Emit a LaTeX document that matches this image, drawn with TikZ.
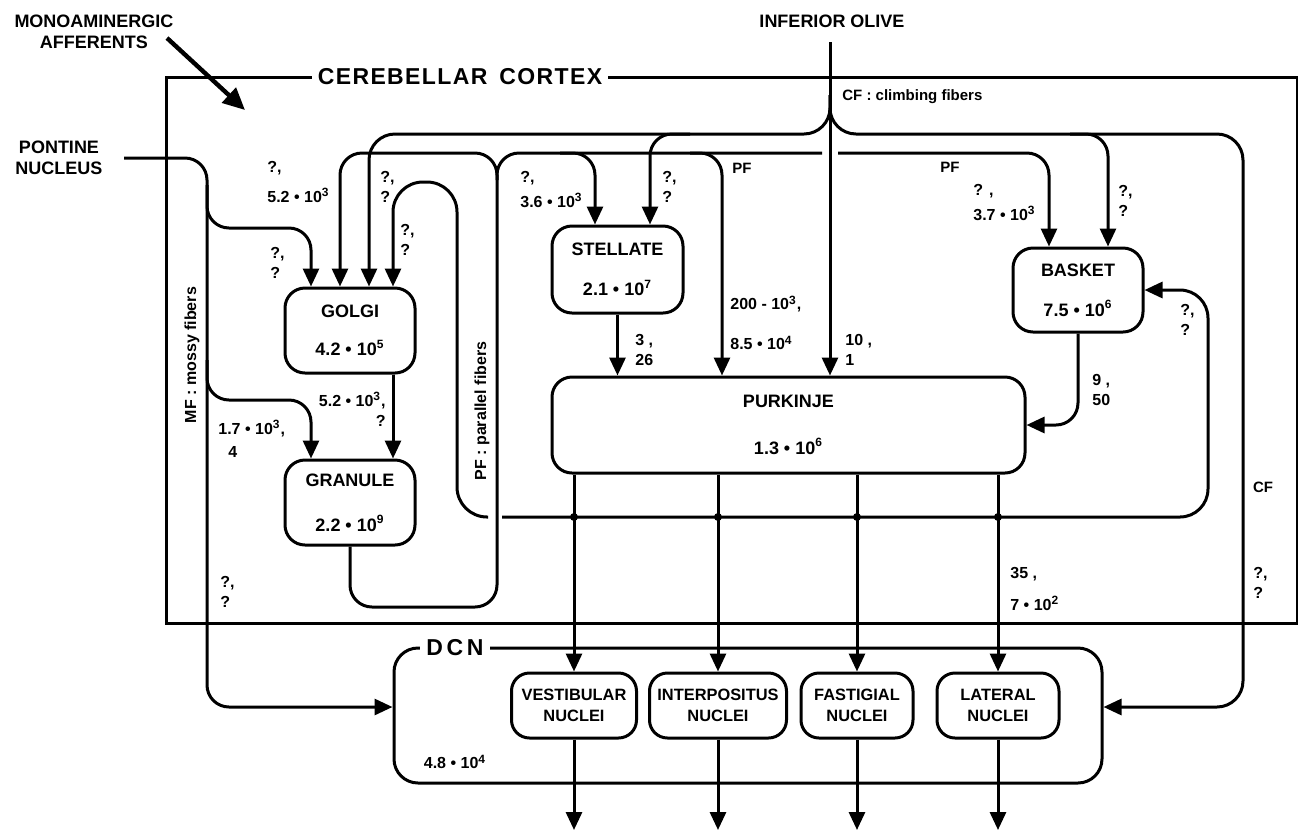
\documentclass[tikz,border=0pt]{standalone}
\usepackage{fontspec}
\setmainfont{Liberation Sans}
\usetikzlibrary{arrows.meta}

\newcommand{\tenpow}[2]{#1 \textbullet{} 10\textsuperscript{#2}}

\tikzset{
	wire/.style={line width=1.5pt, rounded corners=11pt},
	feed/.style={wire, -{Triangle[length=9pt, width=8pt]}},
	cell/.style={draw, line width=1.5pt, rounded corners=10pt, align=center, inner sep=0pt, font=\bfseries\fontsize{9}{19}\selectfont},
	nucleus/.style={draw, line width=1.5pt, rounded corners=9pt, align=center, inner sep=0pt, minimum height=32.5pt, font=\bfseries\fontsize{8.2}{10.5}\selectfont},
	num/.style={anchor=west, align=left, inner sep=0pt, font=\bfseries\fontsize{8}{10}\selectfont},
	tag/.style={align=center, inner sep=0pt, font=\bfseries\fontsize{9}{10.5}\selectfont},
	note/.style={inner sep=0pt, font=\bfseries\fontsize{7.5}{9}\selectfont},
	heading/.style={fill=white, inner xsep=3pt, inner ysep=1pt, font=\bfseries\fontsize{11.5}{13}\selectfont\addfontfeature{LetterSpace=6}}
}

\begin{document}
\begin{tikzpicture}[x=0.5pt, y=-0.5pt]
	\def\yCF{134};
	\def\yPF{153};
	\def\yPC{517};
	\def\yDC{707};

	\useasboundingbox (0,0) rectangle (1298,832);

	\draw[line width=1.5pt] (166,77) rectangle (1297,623);
	\node[heading] (cortex) at (460,77) {CEREBELLAR\hspace{6pt}CORTEX};

	\node[draw, line width=1.5pt, rounded corners=12pt, minimum width=354pt, minimum height=67.5pt] (dcn) at (748,715.5) {};
	\node[heading] (dcnname) at (455,648) {\addfontfeature{LetterSpace=16}DCN};

	\node[cell, minimum width=65pt, minimum height=42.5pt] (golgi) at (350,330.5) {GOLGI\\\tenpow{4.2}{5}};
	\node[cell, minimum width=65pt, minimum height=42.5pt] (granule) at (350,502.5) {GRANULE\\[3.5pt]\tenpow{2.2}{9}};
	\node[cell, minimum width=65.5pt, minimum height=43.5pt] (stellate) at (617.5,269.5) {STELLATE\\[1pt]\tenpow{2.1}{7}};
	\node[cell, minimum width=65pt, minimum height=42pt] (basket) at (1078,290) {BASKET\\[1pt]\tenpow{7.5}{6}};
	\node[cell, minimum width=236.5pt, minimum height=48pt] (purkinje) at (788.5,425) {PURKINJE\\[4.5pt]\tenpow{1.3}{6}};

	\node[nucleus, minimum width=62.5pt] (vestib) at (574,705.5) {VESTIBULAR\\NUCLEI};
	\node[nucleus, minimum width=68.5pt] (interpos) at (718,705.5) {INTERPOSITUS\\NUCLEI};
	\node[nucleus, minimum width=56pt] (fastig) at (857,705.5) {FASTIGIAL\\NUCLEI};
	\node[nucleus, minimum width=61pt] (lateral) at (998,705.5) {LATERAL\\NUCLEI};

	\node[tag] (mono) at (94,32) {MONOAMINERGIC\\AFFERENTS};
	\node[tag] (pontine) at (59,157.5) {PONTINE\\NUCLEUS};
	\node[tag] (olive) at (832,21) {INFERIOR OLIVE};

	\coordinate (monostart) at (167,38);
	\coordinate (monoend) at (245,110);
	\coordinate (mf) at (124,158);
	\coordinate (cf) at (830,42);

	\draw[line width=2.2pt, -{Triangle[length=11pt, width=10pt]}] (monostart) -- (monoend);

	% mossy fibers
	\draw[feed] (mf) -- (207,158) -- (207,\yDC) -- (dcn.west |- 0,\yDC);
	\draw[feed] (207,185) -- (207,228) -- (311,228) -- (311,0 |- golgi.north);
	\draw[feed] (207,360) -- (207,400) -- (311,400) -- (311,0 |- granule.north);

	% parallel fibers
	\draw[wire] (granule.south) -- (granule.south |- 0,607) -- (497,607) -- (497,\yPF) -- (822,\yPF);
	\draw[feed] (497,180) -- (497,\yPF) -- (340,\yPF) -- (340,0 |- golgi.north);
	\draw[feed] (838,\yPF) -- (1049,\yPF) -- (1049,0 |- basket.north);
	\draw[feed] (560,\yPF) -- (595,\yPF) -- (595,0 |- stellate.north);
	\draw[feed] (690,\yPF) -- (722,\yPF) -- (722,0 |- purkinje.north);

	% climbing fibers
	\draw[feed] (cf) -- (cf |- purkinje.north);
	\draw[feed, rounded corners=13pt] (830,95) -- (830,\yCF) -- (369,\yCF) -- (369,0 |- golgi.north);
	\draw[feed, rounded corners=13pt] (830,95) -- (830,\yCF) -- (1243,\yCF) -- (1243,\yDC) -- (dcn.east |- 0,\yDC);
	\draw[feed] (690,\yCF) -- (650,\yCF) -- (650,0 |- stellate.north);
	\draw[feed] (1070,\yCF) -- (1108,\yCF) -- (1108,0 |- basket.north);

	% purkinje collaterals
	\draw[feed, rounded corners=15pt] (488,\yPC) -- (457,\yPC) -- (457,182) -- (393,182) -- (393,0 |- golgi.north);
	\draw[feed, rounded corners=14pt] (502,\yPC) -- (1208,\yPC) -- (1208,0 |- basket.east) -- (basket.east);

	\draw[feed] (393,0 |- golgi.south) -- (393,0 |- granule.north);
	\draw[feed] (stellate.south) -- (stellate.south |- purkinje.north);
	\draw[feed] (basket.south) -- (basket.south |- purkinje.east) -- (purkinje.east);

	\foreach \n in {vestib,interpos,fastig,lateral} {
		\draw[feed] (purkinje.south -| \n.north) -- (\n.north);
		\fill (\n.north |- 0,\yPC) circle (2pt);
		\draw[feed] (\n.south) -- (\n.south |- 0,830);
	}

	% synapse counts
	\node[num] (qmg) at (270,262.5) {?,\\?};
	\node[num] (qpg) at (267,182) {?,\\[5pt]\tenpow{5.2}{3}};
	\node[num] (qcg) at (380,187) {?,\\?};
	\node[num] (qlg) at (400,240) {?,\\?};
	\node[num, anchor=east, align=right] (qgg) at (386,409) {\tenpow{5.2}{3},\\?\hspace{10pt}};
	\node[num] (qmr) at (218,438.5) {\tenpow{1.7}{3},\\[1.5pt]\hspace{5pt}4};
	\node[num] (qmd) at (220,592) {?,\\?};
	\node[num] (qps) at (520,189.5) {?,\\[2.5pt]\tenpow{3.6}{3}};
	\node[num] (qcs) at (662,187) {?,\\?};
	\node[num] (qpp) at (730,323) {200 - 10\textsuperscript{3},\\[10pt]\tenpow{8.5}{4}};
	\node[num] (qop) at (845,350) {10 ,\\1};
	\node[num] (qsp) at (635,350) {3 ,\\26};
	\node[num] (qpb) at (973,202.5) {? ,\\[2.5pt]\tenpow{3.7}{3}};
	\node[num] (qcb) at (1118,201) {?,\\?};
	\node[num] (qlb) at (1180,320) {?,\\?};
	\node[num] (qbp) at (1092,390) {9 ,\\50};
	\node[num] (qpl) at (1010,589) {35 ,\\[6pt]\tenpow{7}{2}};
	\node[num] (qcd) at (1253,582.5) {?,\\?};
	\node[num, anchor=center] (qdcn) at (455,762) {\tenpow{4.8}{4}};

	\node[note, anchor=west] (cfname) at (842,97) {CF : climbing fibers};
	\node[note] (pfa) at (742,168) {PF};
	\node[note] (pfb) at (950,167) {PF};
	\node[note] (cfb) at (1263,487) {CF};
	\node[note, rotate=90, font=\bfseries\fontsize{8}{9}\selectfont] (mfname) at (192,355) {MF : mossy fibers};
	\node[note, rotate=90, font=\bfseries\fontsize{8}{9}\selectfont] (pfname) at (482,411) {PF : parallel fibers};
\end{tikzpicture}
\end{document}
